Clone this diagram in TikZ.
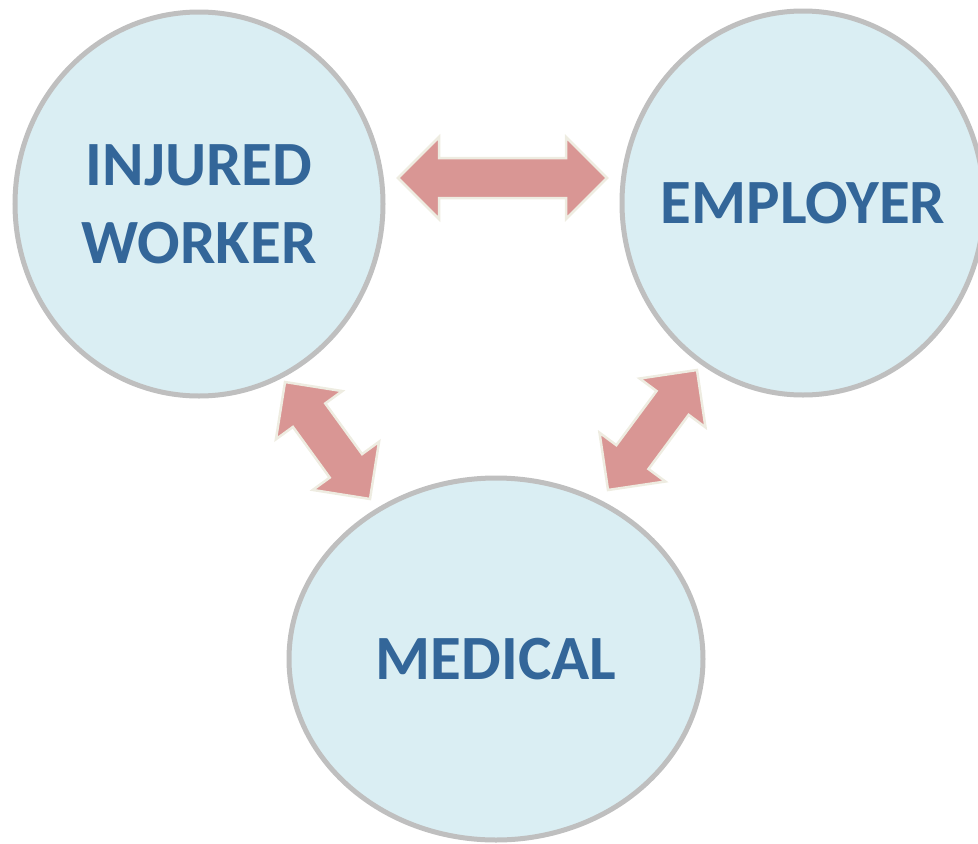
\documentclass[tikz,border=0pt]{standalone}
\usepackage{fontspec}
\setmainfont{Carlito}
\usetikzlibrary{shapes.geometric,calc}

\definecolor{circfill}{HTML}{DAEEF3}
\definecolor{circline}{HTML}{BFBFBF}
\definecolor{labelblue}{HTML}{336699}
\definecolor{arrowfill}{HTML}{D99694}
\definecolor{arrowline}{HTML}{EEECE1}

\tikzset{
  party/.style={ellipse, draw=circline, fill=circfill, line width=5pt,
    font=\fontsize{63}{78}\selectfont\bfseries, text=labelblue,
    align=center, inner sep=0pt},
  link/.style={fill=arrowfill, draw=arrowline, line width=2.5pt, line join=miter},
}

% block arrow with a head at both ends, from #1 to #2
\newcommand{\twoway}[2]{%
  \path[link] (#1)
    -- ($(#1)!41pt!(#2)!41pt!90:(#2)$) -- ($(#1)!41pt!(#2)!20pt!90:(#2)$)
    -- ($(#2)!41pt!(#1)!20pt!-90:(#1)$) -- ($(#2)!41pt!(#1)!41pt!-90:(#1)$)
    -- (#2)
    -- ($(#2)!41pt!(#1)!41pt!90:(#1)$) -- ($(#2)!41pt!(#1)!20pt!90:(#1)$)
    -- ($(#1)!41pt!(#2)!20pt!-90:(#2)$) -- ($(#1)!41pt!(#2)!41pt!-90:(#2)$)
    -- cycle;}

\begin{document}
\begin{tikzpicture}[x=1pt,y=-1pt]
  \path[use as bounding box, clip] (0,0) rectangle (978,844);

  \node[party, minimum width=368pt, minimum height=384pt] (worker) at (199,204) {INJURED\\WORKER};
  \node[party, minimum width=362pt, minimum height=384pt] (employer) at (803,203) {\makebox[0pt]{EMPLOYER}};
  \node[party, minimum width=414pt, minimum height=362pt] (medical) at (496,659) {MEDICAL};

  % arrow ends
  \coordinate (we1) at (398,178);
  \coordinate (we2) at (607,178);
  \coordinate (wm1) at (285,382);
  \coordinate (wm2) at (370,499);
  \coordinate (em1) at (697,370);
  \coordinate (em2) at (608,490);

  \twoway{we1}{we2}
  \twoway{wm1}{wm2}
  \twoway{em1}{em2}
\end{tikzpicture}
\end{document}
